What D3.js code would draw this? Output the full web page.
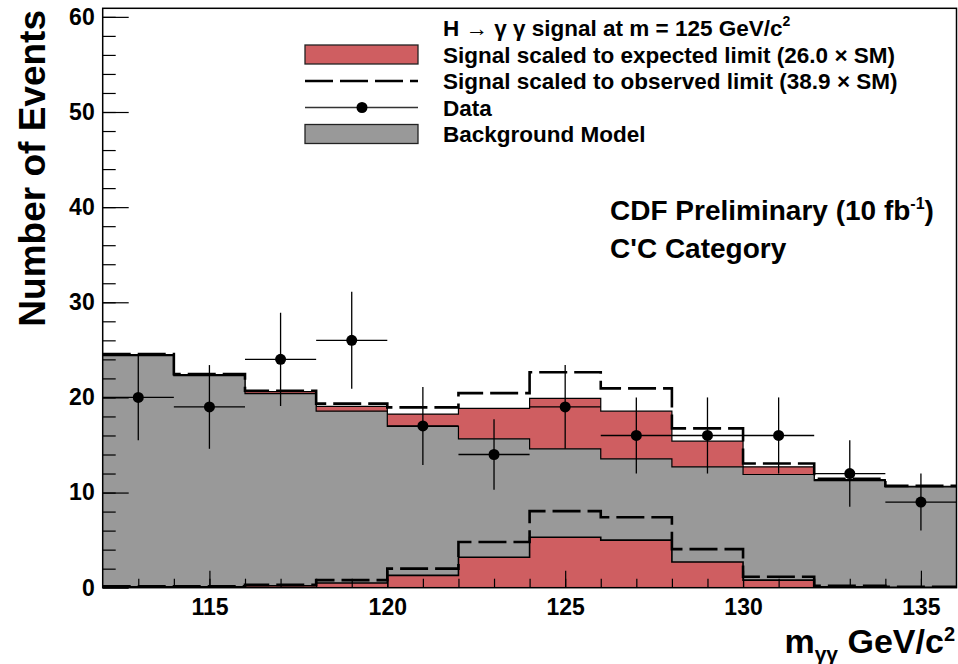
<!DOCTYPE html>
<html>
<head>
<meta charset="utf-8">
<script src="https://cdn.jsdelivr.net/npm/d3@7"></script>
<style>
  body { margin: 0; background: #fff; }
  text { font-family: "Liberation Sans", Arial, sans-serif; font-weight: bold; }
</style>
</head>
<body>
<script>
const width = 958;
const height = 664;

// bins of 2 GeV from 112 to 136
const binEdges = [112, 114, 116, 118, 120, 122, 124, 126, 128, 130, 132, 134, 136];
const binCenters = [113, 115, 117, 119, 121, 123, 125, 127, 129, 131, 133, 135];
const background = [24.4, 22.3, 20.4, 18.55, 16.95, 15.65, 14.6, 13.55, 12.7, 11.9, 11.25, 10.6];
const signalExpected = [0.1, 0.1, 0.2, 0.5, 1.3, 3.2, 5.3, 5.0, 2.7, 0.8, 0.1, 0.05];
const signalObserved = [0.15, 0.15, 0.3, 0.8, 2.0, 4.8, 8.05, 7.4, 4.05, 1.15, 0.2, 0.1];
const dataCounts = [20, 19, 24, 26, 17, 14, 19, 16, 16, 16, 12, 9];
const dataErrors = [4.5, 4.4, 4.9, 5.1, 4.1, 3.7, 4.4, 4.0, 4.0, 4.0, 3.5, 3.0];
const xTickLabels = [115, 120, 125, 130, 135];
const yTickLabels = [0, 10, 20, 30, 40, 50, 60];

const legendRows = [
    {kind: "none", label: "H \u2192 \u03b3 \u03b3 signal at m = 125 GeV/c", sup: "2"},
    {kind: "red", label: "Signal scaled to expected limit (26.0 \u00d7 SM)"},
    {kind: "dash", label: "Signal scaled to observed limit (38.9 \u00d7 SM)"},
    {kind: "data", label: "Data"},
    {kind: "gray", label: "Background Model"}
];

const red = "#cf5e61";
const gray = "#999999";

const x = d3.scaleLinear().domain([112, 136]).range([102.7, 956.5]);
const y = d3.scaleLinear().domain([0, 60.9]).range([587.7, 8.3]);

const svg = d3.select("body").append("svg")
    .attr("width", width)
    .attr("height", height);

// step helpers: repeat last value so the final bin closes at 136
const stepped = vals => binEdges.map((e, i) => ({x: e, v: vals[Math.min(i, vals.length - 1)]}));
const area = d3.area()
    .x(d => x(d.x)).y0(y(0)).y1(d => y(d.v))
    .curve(d3.curveStepAfter);
const line = d3.line()
    .x(d => x(d.x)).y(d => y(d.v))
    .curve(d3.curveStepAfter);

const stackedExpected = background.map((b, i) => b + signalExpected[i]);
const stackedObserved = background.map((b, i) => b + signalObserved[i]);

const hist = svg.append("g");

// background + expected signal (red), then background on top
hist.append("path").attr("d", area(stepped(stackedExpected))).attr("fill", red);
hist.append("path").attr("d", line(stepped(stackedExpected)))
    .attr("fill", "none").attr("stroke", "#000").attr("stroke-width", 1.2);
hist.append("path").attr("d", area(stepped(background))).attr("fill", gray);
hist.append("path").attr("d", line(stepped(background)))
    .attr("fill", "none").attr("stroke", "#000").attr("stroke-width", 1.2);

// signal alone at the bottom
hist.append("path").attr("d", area(stepped(signalExpected))).attr("fill", red);
hist.append("path").attr("d", line(stepped(signalExpected)))
    .attr("fill", "none").attr("stroke", "#000").attr("stroke-width", 1.6);

// observed-limit scaled signal, dashed
[stackedObserved, signalObserved].forEach(vals => {
    hist.append("path").attr("d", line(stepped(vals)))
        .attr("fill", "none").attr("stroke", "#000")
        .attr("stroke-width", 2.6)
        .attr("stroke-dasharray", "28,7");
});

// axes (ticks point inward like ROOT)
const xAxis = svg.append("g").attr("transform", `translate(0,${y(0)})`)
    .call(d3.axisBottom(x).tickValues(xTickLabels).tickSize(-17).tickPadding(11).tickFormat(d3.format("d")));
const xMinor = svg.append("g").attr("transform", `translate(0,${y(0)})`)
    .call(d3.axisBottom(x).tickValues(d3.range(113, 136, 1)).tickSize(-9).tickFormat(""));
const yAxis = svg.append("g").attr("transform", `translate(${x(112)},0)`)
    .call(d3.axisLeft(y).tickValues(yTickLabels).tickSize(-26).tickPadding(8).tickFormat(d3.format("d")));
const yMinor = svg.append("g").attr("transform", `translate(${x(112)},0)`)
    .call(d3.axisLeft(y).tickValues(d3.range(2, 61, 2)).tickSize(-13).tickFormat(""));

[xAxis, xMinor, yAxis, yMinor].forEach(g => {
    g.select(".domain").remove();
    g.selectAll("line").attr("stroke", "#000").attr("stroke-width", 1.2);
    g.selectAll("text").attr("fill", "#000")
        .style("font-family", "'Liberation Sans', Arial, sans-serif")
        .style("font-weight", "bold")
        .style("font-size", "23px");
});

// data points
const pts = svg.append("g");
dataCounts.forEach((n, i) => {
    const cx = x(binCenters[i]);
    pts.append("line")
        .attr("x1", x(binEdges[i])).attr("x2", x(binEdges[i + 1]))
        .attr("y1", y(n)).attr("y2", y(n))
        .attr("stroke", "#000").attr("stroke-width", 1.3);
    pts.append("line")
        .attr("x1", cx).attr("x2", cx)
        .attr("y1", y(n - dataErrors[i])).attr("y2", y(n + dataErrors[i]))
        .attr("stroke", "#000").attr("stroke-width", 1.3);
    pts.append("circle").attr("cx", cx).attr("cy", y(n)).attr("r", 5.5).attr("fill", "#000");
});

// frame
svg.append("rect")
    .attr("x", x(112)).attr("y", y(60.9))
    .attr("width", x(136) - x(112)).attr("height", y(0) - y(60.9))
    .attr("fill", "none").attr("stroke", "#000").attr("stroke-width", 1.5);

// legend
const legend = svg.append("g");
const rowY = i => 28 + i * 26.5;
legendRows.forEach((r, i) => {
    const cy = rowY(i);
    if (r.kind === "red" || r.kind === "gray") {
        legend.append("rect")
            .attr("x", 305).attr("y", cy - 9.5).attr("width", 113).attr("height", 19)
            .attr("fill", r.kind === "red" ? red : gray)
            .attr("stroke", "#222").attr("stroke-width", 1.3);
    } else if (r.kind === "dash") {
        legend.append("line")
            .attr("x1", 305).attr("x2", 418).attr("y1", cy).attr("y2", cy)
            .attr("stroke", "#000").attr("stroke-width", 2.6).attr("stroke-dasharray", "28,7");
    } else if (r.kind === "data") {
        legend.append("line")
            .attr("x1", 305).attr("x2", 418).attr("y1", cy).attr("y2", cy)
            .attr("stroke", "#333").attr("stroke-width", 1.3);
        legend.append("circle").attr("cx", 362).attr("cy", cy).attr("r", 5.5).attr("fill", "#000");
    }
    const t = legend.append("text")
        .attr("x", 443).attr("y", cy + 8)
        .style("font-size", "22.5px")
        .text(r.label);
    if (r.sup) {
        t.append("tspan").attr("dy", -10).style("font-size", "14px").text(r.sup);
    }
});

// annotations
const cdf = svg.append("text").attr("x", 610).attr("y", 220).style("font-size", "28px")
    .text("CDF Preliminary (10 fb");
cdf.append("tspan").attr("dy", -11).style("font-size", "16px").text("-1");
cdf.append("tspan").attr("dy", 11).text(")");
svg.append("text").attr("x", 610).attr("y", 258).style("font-size", "28px")
    .text("C'C Category");

// axis titles
svg.append("text")
    .attr("transform", `translate(45,10) rotate(-90)`)
    .attr("text-anchor", "end")
    .style("font-size", "37px")
    .text("Number of Events");

const xt = svg.append("text")
    .attr("x", 955).attr("y", 653)
    .attr("text-anchor", "end")
    .style("font-size", "34px");
xt.append("tspan").text("m");
xt.append("tspan").attr("dy", 8).style("font-size", "21px").text("\u03b3\u03b3");
xt.append("tspan").attr("dy", -8).text(" GeV/c");
xt.append("tspan").attr("dy", -12).style("font-size", "20px").text("2");
</script>
</body>
</html>
